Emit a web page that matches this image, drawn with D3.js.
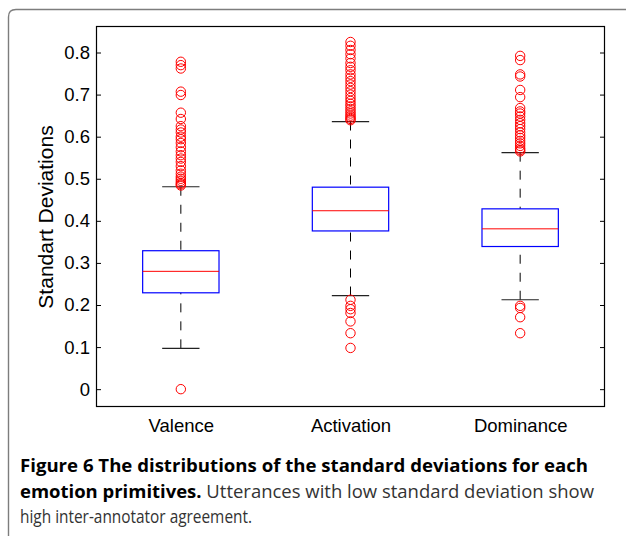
<!DOCTYPE html>
<html>
<head>
<meta charset="utf-8">
<script src="https://cdn.jsdelivr.net/npm/d3@7"></script>
<style>
    body { margin: 0; background: #fff; }
    .axis text { font-family: "Liberation Sans", Arial, sans-serif; font-size: 18.5px; fill: #000; }
    .axis line { stroke: #000; }
    .y-label { font-family: "Liberation Sans", Arial, sans-serif; font-size: 21px; fill: #000; }
    .caption text { font-family: "Open Sans", "Noto Sans", sans-serif; font-size: 18px; }
</style>
</head>
<body>
<div id="chart"></div>
<script>
// ---- size of the page
const w = 626;
const h = 536;

//  ----   plot area   ------
const pLeft = 96;
const pRight = 21;
const pTop = 26;
const pBottom = 130;

// ---- DATA
const categories = ["Valence", "Activation", "Dominance"];
const q1 = [0.229, 0.376, 0.339];
const medians = [0.28, 0.424, 0.381];
const q3 = [0.329, 0.48, 0.4285];
const whiskerLow = [0.097, 0.2225, 0.2125];
const whiskerHigh = [0.481, 0.636, 0.562];

const valenceOutliers = [
    0.778, 0.77, 0.762, 0.707, 0.699, 0.657, 0.642, 0.625, 0.617, 0.61,
    0.6, 0.594, 0.585, 0.575, 0.565, 0.556, 0.548, 0.54, 0.53, 0.52,
    0.512, 0.505, 0.5, 0.495, 0.49, 0.487, 0.484, 0.0,
];
const activationOutliers = [
    0.825, 0.816, 0.806, 0.796, 0.786, 0.775, 0.766, 0.758, 0.748, 0.74,
    0.732, 0.724, 0.716, 0.708, 0.7, 0.692, 0.685, 0.678, 0.672, 0.666,
    0.66, 0.655, 0.65, 0.646, 0.642, 0.639,
    0.2125, 0.198, 0.19, 0.181, 0.161, 0.133, 0.098,
];
const dominanceOutliers = [
    0.792, 0.782, 0.748, 0.743, 0.711, 0.694, 0.668, 0.66, 0.655, 0.648,
    0.64, 0.632, 0.625, 0.618, 0.61, 0.603, 0.597, 0.59, 0.584, 0.578,
    0.572, 0.568, 0.565,
    0.198, 0.193, 0.171, 0.133,
];
const outliers = [valenceOutliers, activationOutliers, dominanceOutliers];

const yTicks = [0, 0.1, 0.2, 0.3, 0.4, 0.5, 0.6, 0.7, 0.8];
const yLabel = "Standart Deviations";

const captionBold1 = "Figure 6 The distributions of the standard deviations for each";
const captionBold2 = "emotion primitives.";
const captionText2 = " Utterances with low standard deviation show";
const captionText3 = "high inter-annotator agreement.";

// table used for drawing
const boxes = categories.map((c, i) => ({
    name: c,
    q1: q1[i],
    median: medians[i],
    q3: q3[i],
    lo: whiskerLow[i],
    hi: whiskerHigh[i],
    outliers: outliers[i],
}));

// SCALES
const xScale = d3
    .scalePoint()
    .domain(categories)
    .range([pLeft, w - pRight])
    .padding(0.5);

const yScale = d3
    .scaleLinear()
    .domain([-0.04, 0.863])
    .range([h - pBottom, pTop]);

const boxW = xScale.step() * 0.45;
const capW = xScale.step() * 0.22;

// create SVG element
const svg = d3
    .select("#chart")
    .append("svg")
    .attr("width", w)
    .attr("height", h);

// OUTER FRAME (rounded, runs off the page)
svg.append("path")
    .attr("d", "M8.5,560 V17 Q8.5,9.5 16,9.5 H660")
    .attr("fill", "none")
    .attr("stroke", "#7d7d7d")
    .attr("stroke-width", 1.4);

// Y AXIS left, with inward ticks
const yAxis = d3
    .axisLeft(yScale)
    .tickValues(yTicks)
    .tickSizeInner(-5)
    .tickSizeOuter(0)
    .tickPadding(6)
    .tickFormat(d3.format("~g"));

svg.append("g")
    .attr("class", "axis")
    .attr("transform", `translate(${pLeft}, 0)`)
    .call(yAxis)
    .call((g) => g.select(".domain").remove());

// right side ticks
svg.append("g")
    .attr("class", "axis")
    .attr("transform", `translate(${w - pRight}, 0)`)
    .call(
        d3.axisRight(yScale).tickValues(yTicks).tickSizeInner(-5).tickSizeOuter(0).tickFormat("")
    )
    .call((g) => g.select(".domain").remove());

// X AXIS labels, no tick marks
svg.append("g")
    .attr("class", "axis")
    .attr("transform", `translate(0, ${h - pBottom})`)
    .call(d3.axisBottom(xScale).tickSize(0).tickPadding(13))
    .call((g) => g.select(".domain").remove());

// PLOT FRAME
svg.append("rect")
    .attr("x", pLeft + 0.5)
    .attr("y", pTop + 0.5)
    .attr("width", w - pLeft - pRight - 1)
    .attr("height", h - pTop - pBottom)
    .attr("fill", "none")
    .attr("stroke", "#000")
    .attr("stroke-width", 1.2);

// Y-LABEL
svg.append("text")
    .attr("class", "y-label")
    .attr("transform", `translate(53, ${(pTop + h - pBottom) / 2 + 1}) rotate(-90)`)
    .attr("text-anchor", "middle")
    .text(yLabel);

// BOXES
const boxG = svg
    .append("g")
    .selectAll("g")
    .data(boxes)
    .enter()
    .append("g")
    .attr("transform", (d) => `translate(${xScale(d.name)}, 0)`);

// whiskers, dashed, drawn from cap to the box
boxG.append("line")
    .attr("y1", (d) => yScale(d.hi))
    .attr("y2", (d) => yScale(d.q3))
    .attr("stroke", "#000")
    .attr("stroke-dasharray", "9,9");
boxG.append("line")
    .attr("y1", (d) => yScale(d.lo))
    .attr("y2", (d) => yScale(d.q1))
    .attr("stroke", "#000")
    .attr("stroke-dasharray", "9,9");

// caps
boxG.selectAll(".cap")
    .data((d) => [d.lo, d.hi])
    .enter()
    .append("line")
    .attr("class", "cap")
    .attr("x1", -capW / 2)
    .attr("x2", capW / 2)
    .attr("y1", (v) => yScale(v))
    .attr("y2", (v) => yScale(v))
    .attr("stroke", "#222")
    .attr("stroke-width", 1.2);

// box
boxG.append("rect")
    .attr("x", -boxW / 2)
    .attr("y", (d) => yScale(d.q3))
    .attr("width", boxW)
    .attr("height", (d) => yScale(d.q1) - yScale(d.q3))
    .attr("fill", "none")
    .attr("stroke", "#0000ff")
    .attr("stroke-width", 1.2);

// median
boxG.append("line")
    .attr("x1", -boxW / 2)
    .attr("x2", boxW / 2)
    .attr("y1", (d) => yScale(d.median))
    .attr("y2", (d) => yScale(d.median))
    .attr("stroke", "#ff0000");

// outliers
boxG.selectAll(".out")
    .data((d) => d.outliers)
    .enter()
    .append("circle")
    .attr("class", "out")
    .attr("cy", (v) => yScale(v))
    .attr("r", 4.7)
    .attr("fill", "none")
    .attr("stroke", "#ff0000")
    .attr("stroke-width", 1);

// CAPTION
const caption = svg.append("g").attr("class", "caption");
caption.append("text")
    .attr("x", 20)
    .attr("y", 472)
    .attr("textLength", 568)
    .attr("lengthAdjust", "spacingAndGlyphs")
    .style("font-weight", "bold")
    .style("fill", "#000")
    .text(captionBold1);

const line2 = caption.append("text")
    .attr("x", 20)
    .attr("y", 497.5)
    .attr("textLength", 574)
    .attr("lengthAdjust", "spacingAndGlyphs");
line2.append("tspan").style("font-weight", "bold").style("fill", "#000").text(captionBold2);
line2.append("tspan").style("fill", "#333").text(captionText2);

caption.append("text")
    .attr("x", 20)
    .attr("y", 523)
    .attr("textLength", 232)
    .attr("lengthAdjust", "spacingAndGlyphs")
    .style("fill", "#333")
    .text(captionText3);
</script>
</body>
</html>
